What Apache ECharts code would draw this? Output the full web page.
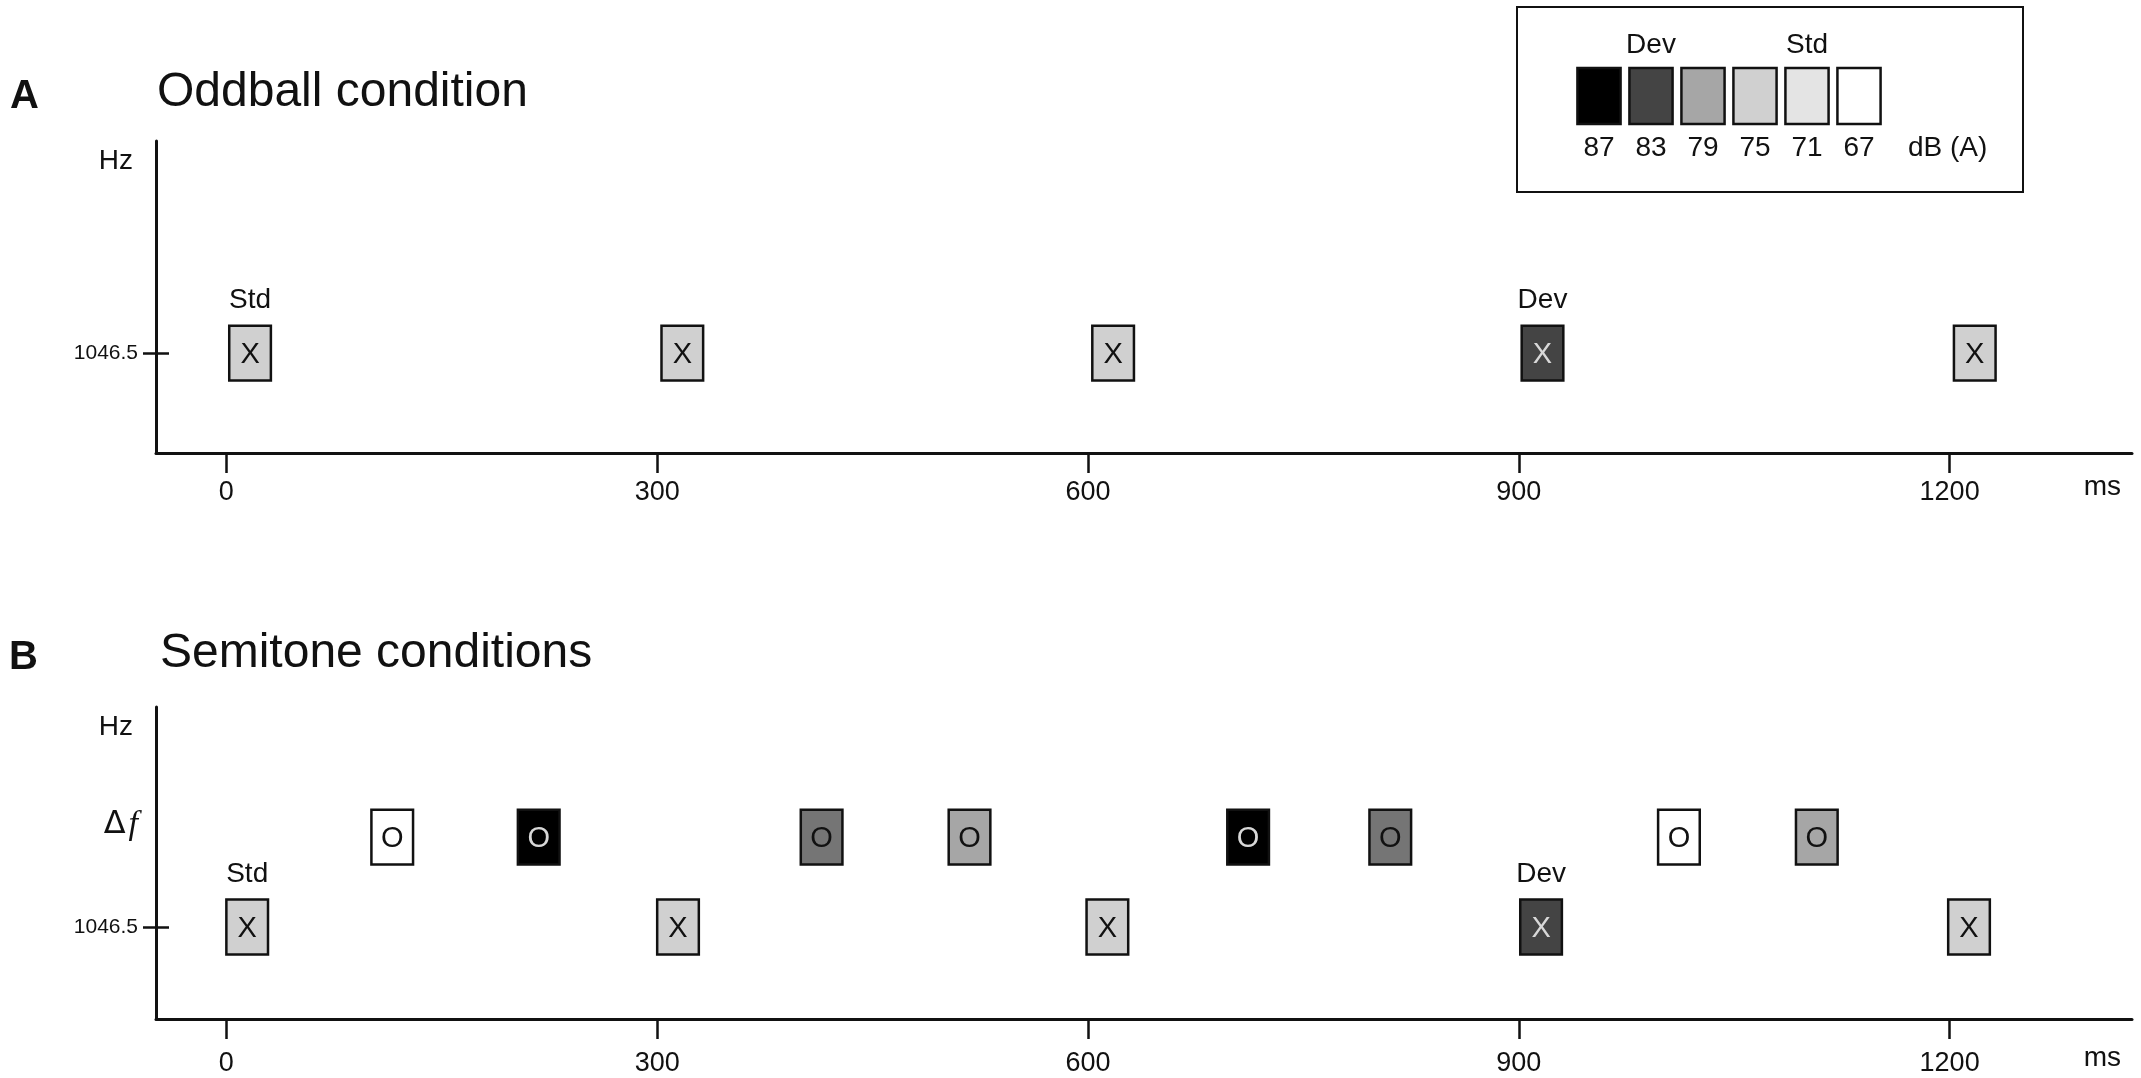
<!DOCTYPE html>
<html>
<head>
<meta charset="utf-8">
<title>Oddball and semitone conditions</title>
<script src="https://cdn.jsdelivr.net/npm/echarts@6/dist/echarts.min.js"></script>
<style>
    html, body { margin: 0; padding: 0; background: #fff; }
    #container { width: 2141px; height: 1078px; }
</style>
</head>
<body>
<div id="container"></div>
<script>
    // time axis (ms)
    var timeTicks = [0, 300, 600, 900, 1200];
    var timeMin = -49;
    var timeMax = 1327;

    // sound levels dB(A) in legend order, and the grey used for each
    var dbLevels = [87, 83, 79, 75, 71, 67];
    var dbShades = ['#000000', '#444444', '#a6a6a6', '#d0d0d0', '#e4e4e4', '#ffffff'];
    var dbTags = ['', 'Dev', '', '', 'Std', ''];

    // frequency rows on the y axis (0..100 units)
    var baseFreqLabel = '1046.5';
    var rowStdA = 32;
    var rowStdB = 29.5;
    var rowDeltaB = 58.3;

    // tone length (ms) and box height (y units)
    var toneDur = 29;
    var toneHeight = 17.6;

    // A: oddball condition
    var oddOnsets = [2, 303, 603, 902, 1203];
    var oddDb = [75, 75, 75, 83, 75];
    var oddTags = ['Std', '', '', 'Dev', ''];

    // B: semitone conditions, base frequency tones
    var semiOnsets = [0, 300, 599, 901, 1199];
    var semiDb = [75, 75, 75, 83, 75];
    var semiTags = ['Std', '', '', 'Dev', ''];

    // B: semitone conditions, shifted tones
    var dfOnsets = [101, 203, 400, 503, 697, 796, 997, 1093];
    var dfDb = [67, 87, 81, 79, 87, 81, 67, 79];

    var FONT = '"Liberation Sans", Arial, sans-serif';
    var INK = '#111';

    function toneRows(onsets, dbs, row) {
        return onsets.map(function (t, i) { return [t, row, dbs[i]]; });
    }

    function toneRenderer(letter, tags) {
        return function (params, api) {
            var t = api.value(0), row = api.value(1), db = api.value(2);
            var p0 = api.coord([t, row + toneHeight / 2]);
            var p1 = api.coord([t + toneDur, row - toneHeight / 2]);
            var w = p1[0] - p0[0], h = p1[1] - p0[1];
            var kids = [{
                type: 'rect',
                shape: { x: p0[0], y: p0[1], width: w, height: h },
                style: { fill: api.visual('color'), stroke: INK, lineWidth: 2.5 }
            }, {
                type: 'text',
                style: {
                    text: letter, x: p0[0] + w / 2, y: p0[1] + h / 2 + 2,
                    align: 'center', verticalAlign: 'middle',
                    font: '29px ' + FONT, fill: db >= 83 ? '#d8d8d8' : INK
                }
            }];
            var tag = tags ? tags[params.dataIndex] : '';
            if (tag) {
                kids.push({
                    type: 'text',
                    style: {
                        text: tag, x: p0[0] + w / 2, y: p0[1] - 11,
                        align: 'center', verticalAlign: 'bottom',
                        font: '28px ' + FONT, fill: INK
                    }
                });
            }
            return { type: 'group', children: kids };
        };
    }

    function swatchItem(params, api) {
        var c = api.coord([api.value(0), 0.5]);
        var band = api.size([1, 1]);
        var w = band[0] * 0.83, h = band[1];
        var kids = [{
            type: 'rect',
            shape: { x: c[0] - w / 2, y: c[1] - h / 2, width: w, height: h },
            style: { fill: api.visual('color'), stroke: INK, lineWidth: 2.5 }
        }];
        var tag = dbTags[params.dataIndex];
        if (tag) {
            kids.push({
                type: 'text',
                style: {
                    text: tag, x: c[0], y: c[1] - h / 2 - 9,
                    align: 'center', verticalAlign: 'bottom',
                    font: '28px ' + FONT, fill: INK
                }
            });
        }
        return { type: 'group', children: kids };
    }

    function timeAxis(gridIndex, labelMargin, msPad) {
        return {
            type: 'value', gridIndex: gridIndex, min: timeMin, max: timeMax, position: 'bottom',
            axisLine: { onZero: false, lineStyle: { color: INK, width: 3 } },
            axisTick: { customValues: timeTicks, length: 20, lineStyle: { color: INK, width: 2.5 } },
            axisLabel: {
                customValues: timeTicks, margin: labelMargin, color: INK, fontSize: 27, fontFamily: FONT,
                formatter: function (v) { return String(v); }
            },
            splitLine: { show: false },
            name: 'ms', nameLocation: 'end', nameGap: -11, nameMoveOverlap: false,
            nameTextStyle: { color: INK, fontSize: 28, fontFamily: FONT, align: 'right', verticalAlign: 'top', lineHeight: 28, padding: [msPad, 0, 0, 0] }
        };
    }

    function freqAxis(gridIndex, row) {
        return {
            type: 'value', gridIndex: gridIndex, min: 0, max: 100, position: 'left',
            axisLine: { show: true, onZero: false, lineStyle: { color: INK, width: 3 } },
            axisTick: { show: true, customValues: [row], length: 13, lineStyle: { color: INK, width: 2.5 } },
            axisLabel: { customValues: [row], formatter: function () { return baseFreqLabel; }, margin: 18, color: INK, fontSize: 21, fontFamily: FONT },
            splitLine: { show: false },
            name: 'Hz', nameLocation: 'end', nameGap: -20, nameMoveOverlap: false,
            nameTextStyle: { color: INK, fontSize: 28, fontFamily: FONT, align: 'right', verticalAlign: 'middle', padding: [0, 23, 0, 0] }
        };
    }

    // second axis on the same line: inside half of the crossing tick
    function innerTickAxis(gridIndex, row, deltaRow) {
        return {
            type: 'value', gridIndex: gridIndex, min: 0, max: 100, position: 'left', offset: 0,
            axisLine: { show: false, onZero: false },
            axisTick: { show: true, inside: true, customValues: [row], length: 13, lineStyle: { color: INK, width: 2.5 } },
            axisLabel: deltaRow == null ? { show: false } : {
                customValues: [deltaRow], margin: 18, verticalAlign: 'bottom',
                formatter: function () { return '{d|Δ}{f|f}'; },
                rich: {
                    d: { fontSize: 32, fontFamily: '"DejaVu Sans", sans-serif', color: INK, lineHeight: 24, padding: [0, 3, 0, 0] },
                    f: { fontSize: 34, fontFamily: '"Liberation Serif", serif', fontStyle: 'italic', color: INK, lineHeight: 24 }
                }
            },
            splitLine: { show: false }
        };
    }

    var dom = document.getElementById('container');
    var myChart = echarts.init(dom);

    var option = {
        backgroundColor: '#fff',
        animation: false,
        title: [
            { text: 'A', left: 10, top: 77, padding: 0, textStyle: { fontSize: 40, fontWeight: 'bold', color: INK, fontFamily: FONT } },
            { text: 'Oddball condition', left: 157, top: 69, padding: 0, textStyle: { fontSize: 48, fontWeight: 'normal', color: INK, fontFamily: FONT } },
            { text: 'B', left: 9, top: 638, padding: 0, textStyle: { fontSize: 40, fontWeight: 'bold', color: INK, fontFamily: FONT } },
            { text: 'Semitone conditions', left: 160, top: 630, padding: 0, textStyle: { fontSize: 48, fontWeight: 'normal', color: INK, fontFamily: FONT } }
        ],
        grid: [
            { left: 156, right: 9, top: 141, height: 312, outerBoundsMode: 'none' },
            { left: 156, right: 9, top: 707, height: 312, outerBoundsMode: 'none' },
            { left: 1573, width: 312, top: 68, height: 56, outerBoundsMode: 'none' }
        ],
        xAxis: [
            timeAxis(0, 26, 20),
            timeAxis(1, 31, 25),
            {
                type: 'category', gridIndex: 2, data: dbLevels.map(String),
                axisLine: { show: false }, axisTick: { show: false }, splitLine: { show: false },
                axisLabel: { margin: 10, color: INK, fontSize: 28, lineHeight: 28, fontFamily: FONT },
                name: 'dB (A)', nameLocation: 'end', nameGap: 23, nameMoveOverlap: false,
                nameTextStyle: { color: INK, fontSize: 28, lineHeight: 28, fontFamily: FONT, verticalAlign: 'top', padding: [10, 0, 0, 0] }
            }
        ],
        yAxis: [
            freqAxis(0, rowStdA),
            freqAxis(1, rowStdB),
            innerTickAxis(0, rowStdA, null),
            innerTickAxis(1, rowStdB, rowDeltaB),
            { type: 'value', gridIndex: 2, min: 0, max: 1, show: false }
        ],
        visualMap: {
            type: 'continuous', show: false, dimension: 2,
            min: 67, max: 87, seriesIndex: [0, 1, 2, 3],
            inRange: { color: dbShades.slice().reverse() }
        },
        graphic: [{
            type: 'rect', silent: true,
            shape: { x: 1517, y: 7, width: 506, height: 185 },
            style: { fill: 'none', stroke: INK, lineWidth: 2 }
        }],
        series: [
            {
                name: 'oddball', type: 'custom', xAxisIndex: 0, yAxisIndex: 0,
                data: toneRows(oddOnsets, oddDb, rowStdA),
                renderItem: toneRenderer('X', oddTags)
            },
            {
                name: 'semitone base', type: 'custom', xAxisIndex: 1, yAxisIndex: 1,
                data: toneRows(semiOnsets, semiDb, rowStdB),
                renderItem: toneRenderer('X', semiTags)
            },
            {
                name: 'semitone shifted', type: 'custom', xAxisIndex: 1, yAxisIndex: 1,
                data: toneRows(dfOnsets, dfDb, rowDeltaB),
                renderItem: toneRenderer('O', null)
            },
            {
                name: 'levels', type: 'custom', xAxisIndex: 2, yAxisIndex: 4,
                data: dbLevels.map(function (db, i) { return [i, 0.5, db]; }),
                renderItem: swatchItem
            }
        ]
    };

    myChart.setOption(option);
</script>
</body>
</html>
